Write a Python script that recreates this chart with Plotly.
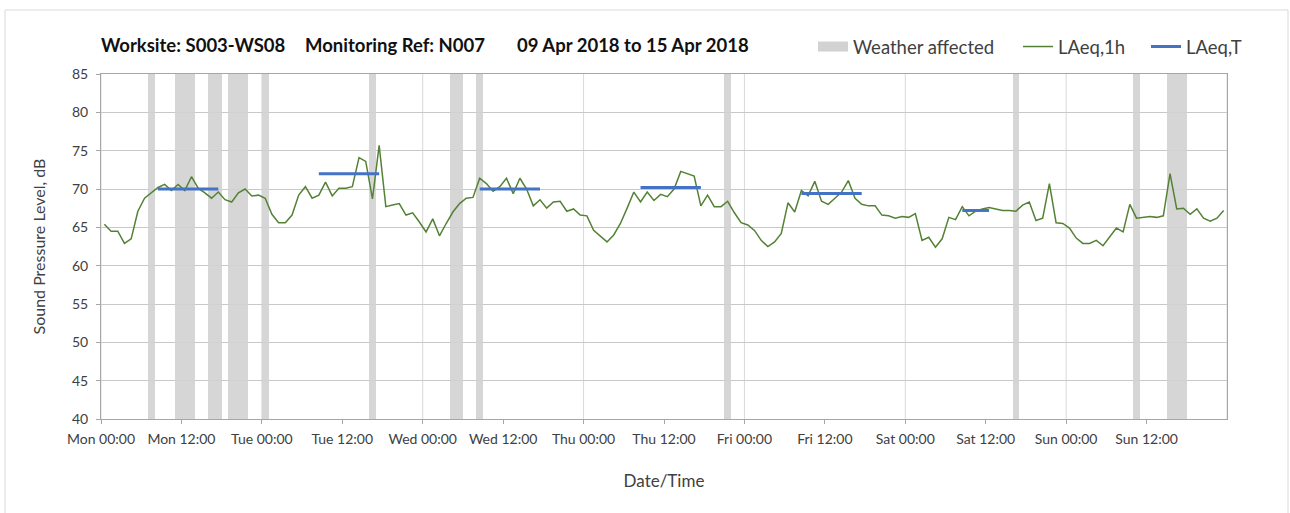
import pandas as pd
import plotly.graph_objects as go

# Monitoring week
week_start = "2018-04-09 00:00"
week_end = "2018-04-16 00:00"

# Hourly LAeq,1h (dB), one value per hour starting Mon 00:00
laeq_1h = [
    65.4, 64.5, 64.5, 62.9, 63.5, 67.1, 68.8, 69.5, 70.2, 70.6, 69.8, 70.6,
    69.8, 71.6, 70.1, 69.5, 68.8, 69.6, 68.6, 68.3, 69.5, 70.0, 69.1, 69.2,   # Mon
    68.8, 66.7, 65.6, 65.6, 66.6, 69.2, 70.3, 68.8, 69.2, 70.9, 69.1, 70.1,
    70.1, 70.3, 74.1, 73.6, 68.7, 75.7, 67.7, 67.9, 68.1, 66.6, 66.9, 65.7,   # Tue
    64.4, 66.1, 63.9, 65.5, 67.0, 68.1, 68.8, 68.9, 71.4, 70.7, 69.7, 70.3,
    71.4, 69.4, 71.4, 70.0, 67.8, 68.6, 67.5, 68.3, 68.4, 67.1, 67.4, 66.6,   # Wed
    66.5, 64.6, 63.9, 63.1, 64.0, 65.5, 67.5, 69.6, 68.3, 69.6, 68.5, 69.3,
    69.0, 70.0, 72.3, 72.0, 71.7, 67.8, 69.2, 67.7, 67.7, 68.4, 66.9, 65.6,   # Thu
    65.3, 64.6, 63.3, 62.5, 63.1, 64.2, 68.2, 67.0, 69.8, 69.1, 71.0, 68.4,
    68.0, 68.8, 69.6, 71.1, 68.8, 68.0, 67.8, 67.8, 66.6, 66.5, 66.2, 66.4,   # Fri
    66.3, 66.8, 63.3, 63.7, 62.4, 63.5, 66.3, 66.0, 67.7, 66.5, 67.1, 67.4,
    67.6, 67.4, 67.2, 67.2, 67.1, 67.9, 68.3, 65.9, 66.2, 70.7, 65.6, 65.5,   # Sat
    64.9, 63.6, 62.9, 62.9, 63.3, 62.6, 63.8, 64.9, 64.4, 68.0, 66.2, 66.3,
    66.4, 66.3, 66.5, 72.0, 67.4, 67.5, 66.7, 67.4, 66.2, 65.8, 66.2, 67.2,   # Sun
]

# LAeq,T over each daytime assessment period
laeq_t_start = ["2018-04-09 08:30", "2018-04-10 08:30", "2018-04-11 08:30",
                "2018-04-12 08:30", "2018-04-13 08:30", "2018-04-14 08:30"]
laeq_t_end = ["2018-04-09 17:30", "2018-04-10 17:30", "2018-04-11 17:30",
              "2018-04-12 17:30", "2018-04-13 17:30", "2018-04-14 12:30"]
laeq_t_value = [70.0, 72.0, 70.0, 70.2, 69.4, 67.2]

# Periods flagged as weather affected
weather_start = ["2018-04-09 07:00", "2018-04-09 11:00", "2018-04-09 16:00",
                 "2018-04-09 19:00", "2018-04-10 00:00", "2018-04-10 16:00",
                 "2018-04-11 04:00", "2018-04-11 08:00", "2018-04-12 21:00",
                 "2018-04-14 16:00", "2018-04-15 10:00", "2018-04-15 15:00"]
weather_end = ["2018-04-09 08:00", "2018-04-09 14:00", "2018-04-09 18:00",
               "2018-04-09 22:00", "2018-04-10 01:00", "2018-04-10 17:00",
               "2018-04-11 06:00", "2018-04-11 09:00", "2018-04-12 22:00",
               "2018-04-14 17:00", "2018-04-15 11:00", "2018-04-15 18:00"]

y_min, y_max = 40, 85

FONT = "Lato"
GREEN = "#548235"
BLUE = "#4472C4"
GREY_BAND = "#d2d2d2"

# hourly readings are plotted at the middle of each hour
hours = pd.date_range(pd.Timestamp(week_start) + pd.Timedelta(minutes=30),
                      periods=len(laeq_1h), freq="h")

ws = pd.to_datetime(weather_start)
we = pd.to_datetime(weather_end)
band_mid = ws + (we - ws) / 2
band_width = [(e - s).total_seconds() * 1000 for s, e in zip(ws, we)]

fig = go.Figure()

fig.add_trace(go.Bar(
    x=band_mid, y=[y_max - y_min] * len(ws), base=y_min, width=band_width,
    marker=dict(color=GREY_BAND, line=dict(width=0)), opacity=0.9,
    name="Weather affected", legendgroup="wx", showlegend=False,
    hoverinfo="skip",
))
# legend entry for the weather bands (wide flat swatch)
fig.add_trace(go.Scatter(
    x=[None], y=[None], mode="lines", name="Weather affected",
    line=dict(color=GREY_BAND, width=10), legendgroup="wx", legend="legend",
))

fig.add_trace(go.Scatter(
    x=hours, y=laeq_1h, mode="lines", name="LAeq,1h",
    line=dict(color=GREEN, width=1.5), legend="legend2",
))

tx, ty = [], []
for s, e, v in zip(laeq_t_start, laeq_t_end, laeq_t_value):
    tx += [pd.Timestamp(s), pd.Timestamp(e), None]
    ty += [v, v, None]
fig.add_trace(go.Scatter(
    x=tx, y=ty, mode="lines", name="LAeq,T",
    line=dict(color=BLUE, width=3), legend="legend3",
))

# day boundary gridlines
for d in pd.date_range(week_start, week_end, freq="D"):
    fig.add_shape(type="line", xref="x", yref="paper", x0=d, x1=d, y0=0, y1=1,
                  line=dict(color="#d9d9d9", width=1), layer="below")

# labelled ticks every 12 hours (the closing midnight is left unlabelled)
tick_times = pd.date_range(week_start, week_end, freq="12h")[:-1]

L, R, T, B = 101, 63, 74, 94
W, H = 1290, 513
pw, ph = W - L - R, H - T - B


def px(x):
    return (x - L) / pw


def py(y):
    return (H - B - y) / ph


# outer chart frame
fig.add_shape(type="rect", xref="paper", yref="paper",
              x0=px(5), x1=px(1288), y0=py(525), y1=py(10),
              line=dict(color="#d9d9d9", width=1), fillcolor="rgba(0,0,0,0)",
              layer="below")

title_font = dict(family=FONT, size=18.5, color="#111111", weight="bold")
for txt, x in [("Worksite: S003-WS08", 99),
               ("Monitoring Ref: N007", 303),
               ("09 Apr 2018 to 15 Apr 2018", 515)]:
    fig.add_annotation(text=txt, xref="paper", yref="paper", x=px(x), y=py(45),
                       xanchor="left", yanchor="middle", showarrow=False,
                       font=title_font)

legend_common = dict(orientation="h", yanchor="middle", xanchor="left",
                     y=py(47), bgcolor="rgba(0,0,0,0)", borderwidth=0,
                     font=dict(family=FONT, size=18.5, color="#404040"))

fig.update_layout(
    width=W, height=H,
    margin=dict(l=L, r=R, t=T, b=B),
    paper_bgcolor="white", plot_bgcolor="white",
    font=dict(family=FONT, size=14, color="#404040"),
    hovermode=False,
    bargap=0,
    legend=dict(x=px(813), **legend_common),
    legend2=dict(x=px(1018), **legend_common),
    legend3=dict(x=px(1146), **legend_common),
    xaxis=dict(
        type="date", range=[week_start, week_end],
        tickmode="array", tickvals=tick_times, tickformat="%a %H:%M",
        showgrid=False, ticks="outside", ticklen=4, tickcolor="#a6a6a6",
        ticklabelstandoff=3,
        showline=True, linecolor="#a6a6a6", linewidth=1, mirror=True,
        tickfont=dict(family=FONT, size=14, color="#404040"),
        title=dict(text="Date/Time", standoff=29,
                   font=dict(family=FONT, size=17, color="#404040")),
    ),
    yaxis=dict(
        range=[y_min, y_max], dtick=5, tick0=0,
        showgrid=True, gridcolor="#c8c8c8", gridwidth=1,
        ticks="outside", ticklen=4, tickcolor="#a6a6a6",
        ticklabelstandoff=5,
        showline=True, linecolor="#a6a6a6", linewidth=1, mirror=True,
        zeroline=False,
        tickfont=dict(family=FONT, size=14, color="#404040"),
        title=dict(text="Sound Pressure Level, dB", standoff=22,
                   font=dict(family=FONT, size=16, color="#404040")),
    ),
)

fig.write_html("out.html")
